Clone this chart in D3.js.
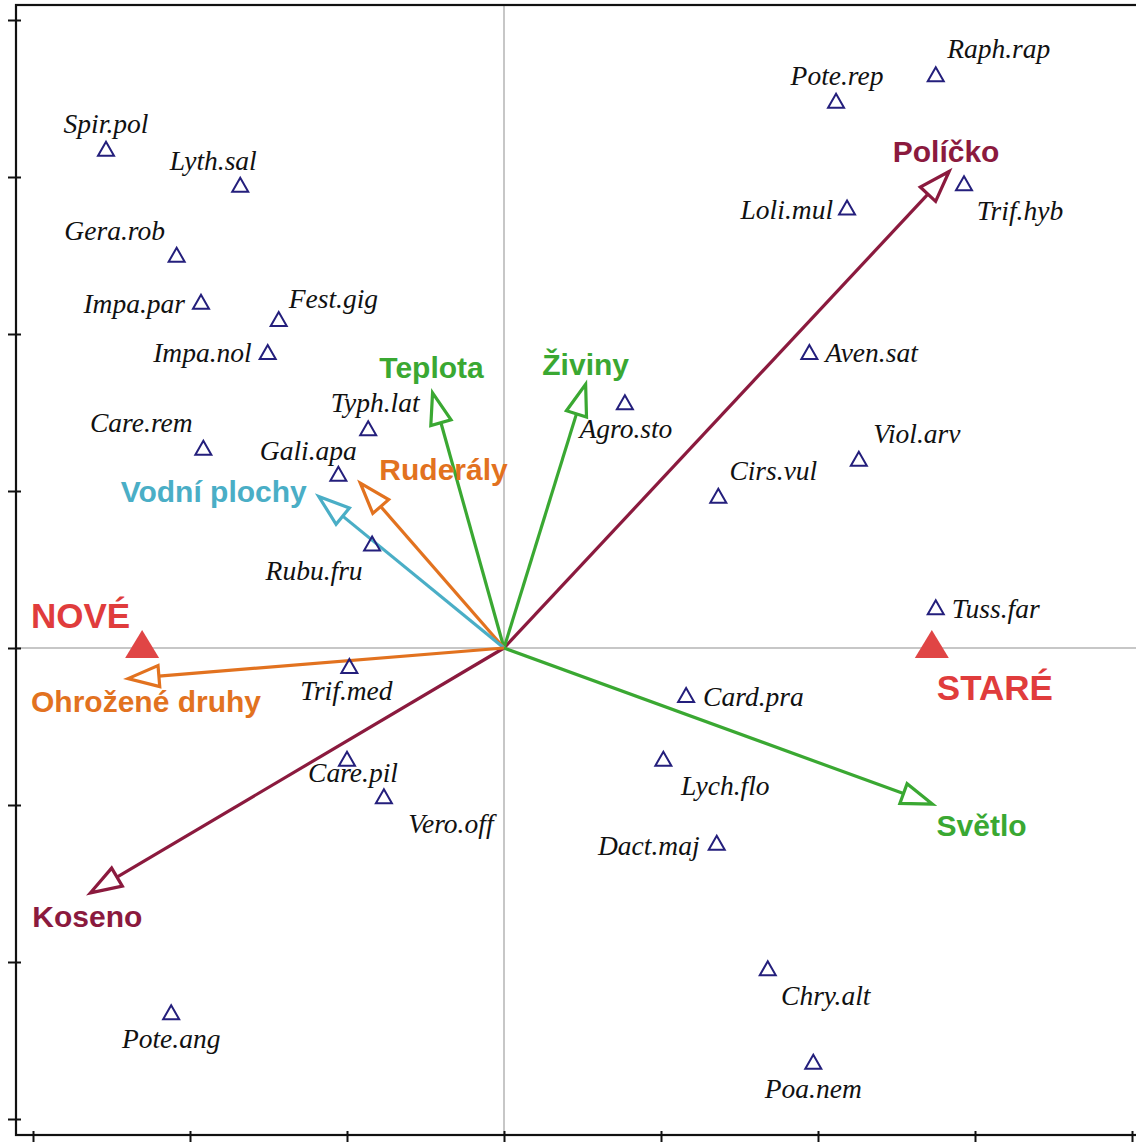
<!DOCTYPE html>
<html>
<head>
<meta charset="utf-8">
<script src="https://cdn.jsdelivr.net/npm/d3@7"></script>
<style>
  html, body { margin: 0; padding: 0; background: #fff; }
  svg { display: block; }
  .sp { font-family: "Liberation Serif", "Times New Roman", serif; font-style: italic; font-size: 27.5px; fill: #111; }
  .env { font-family: "Liberation Sans", Arial, sans-serif; font-weight: bold; font-size: 30px; }
  .smp { font-family: "Liberation Sans", Arial, sans-serif; font-weight: bold; font-size: 35px; fill: #e03c3c; }
</style>
</head>
<body>
<svg width="1136" height="1143"></svg>
<script>
// species scores
const speciesNames = ["Spir.pol", "Lyth.sal", "Gera.rob", "Impa.par", "Fest.gig", "Impa.nol", "Care.rem",
  "Typh.lat", "Gali.apa", "Rubu.fru", "Trif.med", "Care.pil", "Vero.off", "Pote.ang",
  "Raph.rap", "Pote.rep", "Trif.hyb", "Loli.mul", "Aven.sat", "Agro.sto", "Viol.arv",
  "Cirs.vul", "Tuss.far", "Card.pra", "Lych.flo", "Dact.maj", "Chry.alt", "Poa.nem"];
const speciesX = [-0.507, -0.336, -0.417, -0.386, -0.287, -0.301, -0.383,
  -0.173, -0.211, -0.168, -0.197, -0.200, -0.153, -0.424,
  0.550, 0.423, 0.586, 0.437, 0.389, 0.154, 0.452,
  0.273, 0.550, 0.232, 0.203, 0.271, 0.336, 0.394];
const speciesY = [0.636, 0.590, 0.501, 0.441, 0.419, 0.377, 0.255,
  0.280, 0.222, 0.133, -0.023, -0.141, -0.189, -0.464,
  0.731, 0.697, 0.592, 0.561, 0.377, 0.313, 0.241,
  0.194, 0.052, -0.060, -0.141, -0.248, -0.408, -0.527];

// environmental variables (arrow tips)
const envNames = ["Políčko", "Koseno", "Teplota", "Živiny", "Ruderály", "Vodní plochy", "Ohrožené druhy", "Světlo"];
const envX = [0.567, -0.527, -0.091, 0.104, -0.183, -0.236, -0.479, 0.546];
const envY = [0.607, -0.312, 0.325, 0.336, 0.210, 0.193, -0.039, -0.199];

// sample centroids
const sampleNames = ["NOVÉ", "STARÉ"];
const sampleX = [-0.461, 0.545];
const sampleY = [0.005, 0.005];

// label placement (pixels relative to the mark) - layout only
const spLabel = {
  "Spir.pol": [0, -16, "middle"], "Lyth.sal": [-27, -15, "middle"], "Gera.rob": [-62, -15, "middle"],
  "Impa.par": [-16, 11, "end"], "Fest.gig": [10, -11, "start"], "Impa.nol": [-16, 10, "end"],
  "Care.rem": [-62, -16, "middle"], "Typh.lat": [7, -16, "middle"], "Gali.apa": [-30, -14, "middle"],
  "Rubu.fru": [-58, 36, "middle"], "Trif.med": [-3, 34, "middle"], "Care.pil": [6, 23, "middle"],
  "Vero.off": [67, 37, "middle"], "Pote.ang": [0, 36, "middle"], "Raph.rap": [63, -16, "middle"],
  "Pote.rep": [1, -16, "middle"], "Trif.hyb": [56, 37, "middle"], "Loli.mul": [-14, 11, "end"],
  "Aven.sat": [16, 10, "start"], "Agro.sto": [1, 36, "middle"], "Viol.arv": [58, -16, "middle"],
  "Cirs.vul": [55, -16, "middle"], "Tuss.far": [16, 11, "start"], "Card.pra": [17, 11, "start"],
  "Lych.flo": [62, 36, "middle"], "Dact.maj": [-68, 12, "middle"], "Chry.alt": [58, 37, "middle"],
  "Poa.nem": [0, 36, "middle"]
};
const envStyle = {
  "Políčko": ["#8b1a3e", -3, -10, "middle"], "Koseno": ["#8b1a3e", -58, 34, "start"],
  "Teplota": ["#3aa832", -1, -15, "middle"], "Živiny": ["#3aa832", 0, -9, "middle"],
  "Ruderály": ["#e2721f", 19, -3, "start"], "Vodní plochy": ["#4aaec6", -12, 6, "end"],
  "Ohrožené druhy": ["#e2721f", -97, 33, "start"], "Světlo": ["#3aa832", 4, 32, "start"]
};
const smpLabel = { "NOVÉ": [-12, -16, "end"], "STARÉ": [5, 56, "start"] };

const svg = d3.select("svg");
const x = d3.scaleLinear().domain([-0.6, 0.8]).range([33, 1132]);
const y = d3.scaleLinear().domain([-0.6, 0.8]).range([1119, 20]);
const tickVals = d3.range(-0.6, 0.81, 0.2);

// zero lines
svg.append("line").attr("x1", 16).attr("x2", 1136).attr("y1", y(0)).attr("y2", y(0))
  .attr("stroke", "#b4b4b4").attr("stroke-width", 1.5);
svg.append("line").attr("x1", x(0)).attr("x2", x(0)).attr("y1", 5).attr("y2", 1135)
  .attr("stroke", "#b4b4b4").attr("stroke-width", 1.5);

// frame
svg.append("rect").attr("x", 16).attr("y", 5).attr("width", 1126).attr("height", 1130)
  .attr("fill", "none").attr("stroke", "#111").attr("stroke-width", 2.2);

// axes (ticks only)
const yAxis = svg.append("g").attr("transform", "translate(21,0)")
  .call(d3.axisLeft(y).tickValues(tickVals).tickSize(13).tickFormat(""));
const xAxis = svg.append("g").attr("transform", "translate(0,1131)")
  .call(d3.axisBottom(x).tickValues(tickVals).tickSize(11).tickFormat(""));
[yAxis, xAxis].forEach(a => {
  a.select(".domain").remove();
  a.selectAll(".tick line").attr("stroke", "#111").attr("stroke-width", 2);
});

// arrows
const ox = x(0), oy = y(0);
const arrows = svg.append("g");
envNames.forEach((n, i) => {
  const tx = x(envX[i]), ty = y(envY[i]);
  const col = envStyle[n][0];
  const ang = Math.atan2(ty - oy, tx - ox);
  const L = 31, W = 10.5;
  const bx = tx - L * Math.cos(ang), by = ty - L * Math.sin(ang);
  const px = -Math.sin(ang) * W, py = Math.cos(ang) * W;
  arrows.append("line").attr("x1", ox).attr("y1", oy).attr("x2", bx).attr("y2", by)
    .attr("stroke", col).attr("stroke-width", 3.2);
  arrows.append("path")
    .attr("d", `M${tx},${ty}L${bx + px},${by + py}L${bx - px},${by - py}Z`)
    .attr("fill", "#fff").attr("stroke", col).attr("stroke-width", 3.2).attr("stroke-linejoin", "miter");
  arrows.append("text").attr("class", "env")
    .attr("x", tx + envStyle[n][1]).attr("y", ty + envStyle[n][2])
    .attr("text-anchor", envStyle[n][3]).attr("fill", col).text(n);
});

// species
const sp = svg.append("g");
speciesNames.forEach((n, i) => {
  const cx = x(speciesX[i]), cy = y(speciesY[i]);
  sp.append("path")
    .attr("d", `M${cx},${cy - 7}L${cx + 8},${cy + 7}L${cx - 8},${cy + 7}Z`)
    .attr("fill", "none").attr("stroke", "#241f7c").attr("stroke-width", 2);
  const lb = spLabel[n];
  sp.append("text").attr("class", "sp")
    .attr("x", cx + lb[0]).attr("y", cy + lb[1])
    .attr("text-anchor", lb[2]).text(n);
});

// samples
const sm = svg.append("g");
sampleNames.forEach((n, i) => {
  const cx = x(sampleX[i]), cy = y(sampleY[i]);
  sm.append("path")
    .attr("d", `M${cx},${cy - 14}L${cx + 17},${cy + 14}L${cx - 17},${cy + 14}Z`)
    .attr("fill", "#e04545");
  const lb = smpLabel[n];
  sm.append("text").attr("class", "smp")
    .attr("x", cx + lb[0]).attr("y", cy + lb[1])
    .attr("text-anchor", lb[2]).text(n);
});
</script>
</body>
</html>
